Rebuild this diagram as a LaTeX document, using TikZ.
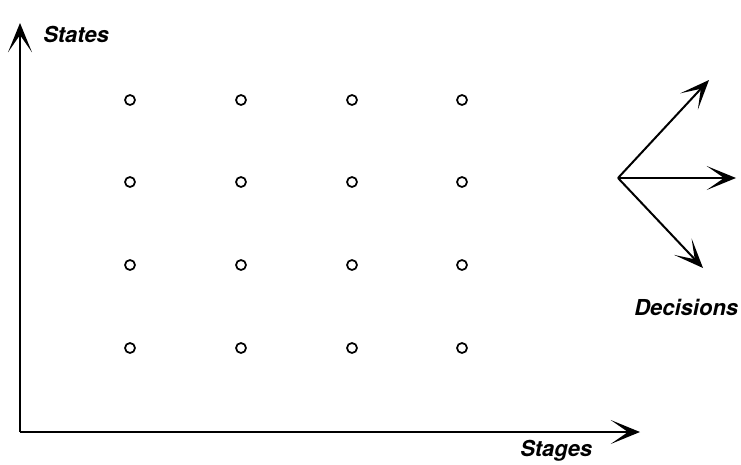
\documentclass[tikz,border=0pt]{standalone}
\usepackage{fontspec}
\setsansfont{TeX Gyre Heros}
\usetikzlibrary{arrows.meta,positioning}

\begin{document}
\begin{tikzpicture}[
  x=0.75pt, y=-0.75pt,
  arr/.style={-{Stealth[length=22pt, width=18pt, inset=13pt]}},
  axis/.style={arr, line width=1.6pt},
  dec/.style={arr, line width=1.5pt},
  st/.style={circle, draw, line width=1.3pt, minimum size=7.5pt, inner sep=0pt},
  lab/.style={font=\sffamily\bfseries\itshape\fontsize{16.5}{18}\selectfont, inner sep=0pt, anchor=base west}
]
  \useasboundingbox (0,0) rectangle (741,464);

  % axes
  \coordinate (o) at (20,432);
  \coordinate (ytip) at (20,23);
  \coordinate (xtip) at (640,432);
  \draw[axis] (o) -- (ytip);
  \draw[axis] (o) -- (xtip);
  \node[lab] (states) at (43,42) {States};
  \node[lab] (stages) at (520,456) {Stages};

  % grid of states
  \foreach \x [count=\i] in {130,241,352,462}
    \foreach \y [count=\j] in {100,182,265,348}
      \node[st] (s-\i-\j) at (\x,\y) {};

  % decisions
  \coordinate (d) at (618,178);
  \coordinate (dup) at (709,80);
  \coordinate (dmid) at (736,178);
  \coordinate (ddown) at (703,268);
  \draw[dec] (d) -- (dup);
  \draw[dec] (d) -- (dmid);
  \draw[dec] (d) -- (ddown);
  \node[lab] (decisions) at (634,315) {Decisions};
\end{tikzpicture}
\end{document}
